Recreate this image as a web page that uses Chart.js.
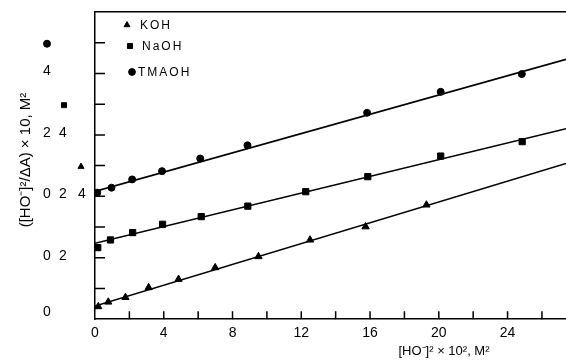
<!DOCTYPE html>
<html>
<head>
<meta charset="utf-8">
<script src="https://cdn.jsdelivr.net/npm/chart.js@4.4.0/dist/chart.umd.min.js"></script>
<style>
  html, body { margin: 0; background: #fff; overflow: hidden; }
  #wrap { width: 566px; height: 364px; overflow: hidden; }
</style>
</head>
<body>
<div id="wrap"><canvas id="chart" width="572" height="364"></canvas></div>
<script>
// Values. Each curve is shifted up on one shared axis.
const SERIES  = ['KOH', 'NaOH', 'TMAOH'];
const OFFSETS = [0, 2, 4];
const STYLES  = ['triangle', 'rect', 'circle'];

const kohX   = [0.19, 0.77, 1.77, 3.12, 4.86, 6.99, 9.51, 12.51, 15.74, 19.28];
const kohY   = [0.41, 0.56, 0.71, 1.03, 1.30, 1.68, 2.04, 2.58, 3.01, 3.72];
const naohX  = [0.16, 0.90, 2.19, 3.93, 6.18, 8.89, 12.26, 15.87, 20.11, 24.85];
const naohY  = [0.33, 0.58, 0.82, 1.09, 1.34, 1.68, 2.15, 2.64, 3.31, 3.78];
const tmaohX = [0.13, 0.96, 2.16, 3.90, 6.12, 8.87, 15.83, 20.11, 24.83];
const tmaohY = [0.12, 0.28, 0.55, 0.82, 1.23, 1.66, 2.72, 3.40, 3.98];

// straight fit lines, read at both ends of the x range
const fitX     = [0, 27.4];
const kohFit   = [0.43, 5.07];
const naohFit  = [0.47, 4.20];
const tmaohFit = [0.16, 4.46];

const X_MAX = 27.4;
const Y_MAX = 10;
const yTickLabels = [0, 2, 4];        // printed for every curve, at its own offset
const X_TITLE = '[HO\u207B]\u00B2 \u00D7 10\u00B2, M\u00B2';
const Y_TITLE = '([HO\u207B]\u00B2/\u0394A) \u00D7 10, M\u00B2';

// left-hand label columns (x px) as they sit in the print
const LABEL_COLS  = [[47, 63, 82], [47, 63, 63], [47, 47, 47]];
const MARKER_COLS = [81, 64, 47];

const FONT = '"Liberation Sans", Arial, sans-serif';

const xs = [kohX, naohX, tmaohX];
const ys = [kohY, naohY, tmaohY];
const fits = [kohFit, naohFit, tmaohFit];

const datasets = [];
SERIES.forEach((name, i) => {
  datasets.push({
    type: 'scatter',
    label: name,
    data: xs[i].map((x, k) => ({ x, y: ys[i][k] + OFFSETS[i] })),
    pointStyle: STYLES[i],
    pointRadius: i === 0 ? 4.2 : i === 1 ? 4.4 : 3.5,
    pointBackgroundColor: '#000',
    pointBorderColor: '#000',
    pointBorderWidth: 1,
    showLine: false,
  });
  datasets.push({
    type: 'line',
    label: name + ' fit',
    data: fitX.map((x, k) => ({ x, y: fits[i][k] + OFFSETS[i] })),
    borderColor: '#000',
    borderWidth: 1.6,
    pointRadius: 0,
    tension: 0,
  });
});

function drawMarker(ctx, style, radius, x, y) {
  ctx.fillStyle = '#000';
  ctx.strokeStyle = '#000';
  ctx.lineWidth = 1;
  Chart.helpers.drawPoint(ctx, { pointStyle: style, radius, rotation: 0, borderWidth: 1 }, x, y);
}

const decor = {
  id: 'decor',
  afterDraw(chart) {
    const { ctx, chartArea: a, scales: { x, y } } = chart;
    ctx.save();

    // inward tick marks
    ctx.strokeStyle = '#000';
    ctx.lineWidth = 1.5;
    ctx.beginPath();
    for (let v = 2; v < X_MAX; v += 2) {
      const px = x.getPixelForValue(v);
      ctx.moveTo(px, a.bottom);
      ctx.lineTo(px, a.bottom - 8);
    }
    for (let v = 1; v < Y_MAX; v++) {
      const py = y.getPixelForValue(v);
      ctx.moveTo(a.left, py);
      ctx.lineTo(a.left + 10, py);
    }
    ctx.stroke();

    // stacked y labels, one set per curve
    ctx.fillStyle = '#000';
    ctx.font = '14px ' + FONT;
    ctx.textAlign = 'center';
    ctx.textBaseline = 'middle';
    SERIES.forEach((name, i) => {
      yTickLabels.forEach((t, k) => {
        let py = y.getPixelForValue(t + OFFSETS[i]);
        py = Math.min(py, a.bottom - 5);
        ctx.fillText(String(t), LABEL_COLS[i][k], py - 2);
      });
      const my = y.getPixelForValue(yTickLabels[2] + OFFSETS[i] + 1);
      drawMarker(ctx, STYLES[i], 3.5, MARKER_COLS[i], my + 1);
    });

    // legend inside the plot
    const legendY = [25, 46, 72];
    const legendM = [127, 130, 132];
    const legendT = [140, 142, 138];
    ctx.font = '12px ' + FONT;
    ctx.textAlign = 'left';
    ctx.letterSpacing = '2px';
    SERIES.forEach((name, i) => {
      drawMarker(ctx, STYLES[i], i === 1 ? 3.6 : 3.4, legendM[i], legendY[i]);
      ctx.fillText(name, legendT[i], legendY[i] + 1);
    });
    ctx.letterSpacing = '0px';

    // axis titles
    ctx.font = '13px ' + FONT;
    ctx.textAlign = 'center';
    ctx.fillText(X_TITLE, 444, 351);
    ctx.translate(26, 160);
    ctx.rotate(-Math.PI / 2);
    ctx.font = '15px ' + FONT;
    ctx.fillText(Y_TITLE, 0, 0);

    ctx.restore();
  },
};

new Chart(document.getElementById('chart'), {
  data: { datasets },
  options: {
    responsive: false,
    animation: false,
    layout: { autoPadding: false, padding: { left: 95, top: 12, right: 0, bottom: 16 } },
    plugins: { legend: { display: false }, tooltip: { enabled: false } },
    scales: {
      x: {
        type: 'linear',
        min: 0,
        max: X_MAX,
        grid: { display: false, drawTicks: false },
        border: { display: true, color: '#000', width: 1.5 },
        ticks: {
          stepSize: 2,
          padding: 6,
          color: '#000',
          font: { family: FONT, size: 14 },
          maxRotation: 0,
          autoSkip: false,
          callback: v => (v % 4 === 0 ? v : ''),
        },
      },
      xTop: {
        type: 'linear',
        position: 'top',
        min: 0,
        max: X_MAX,
        grid: { display: false, drawTicks: false },
        border: { display: true, color: '#000', width: 1.5 },
        ticks: { display: false },
      },
      y: {
        type: 'linear',
        min: 0,
        max: Y_MAX,
        grid: { display: false, drawTicks: false },
        border: { display: true, color: '#000', width: 1.5 },
        ticks: { display: false },
      },
    },
  },
  plugins: [decor],
});
</script>
</body>
</html>
